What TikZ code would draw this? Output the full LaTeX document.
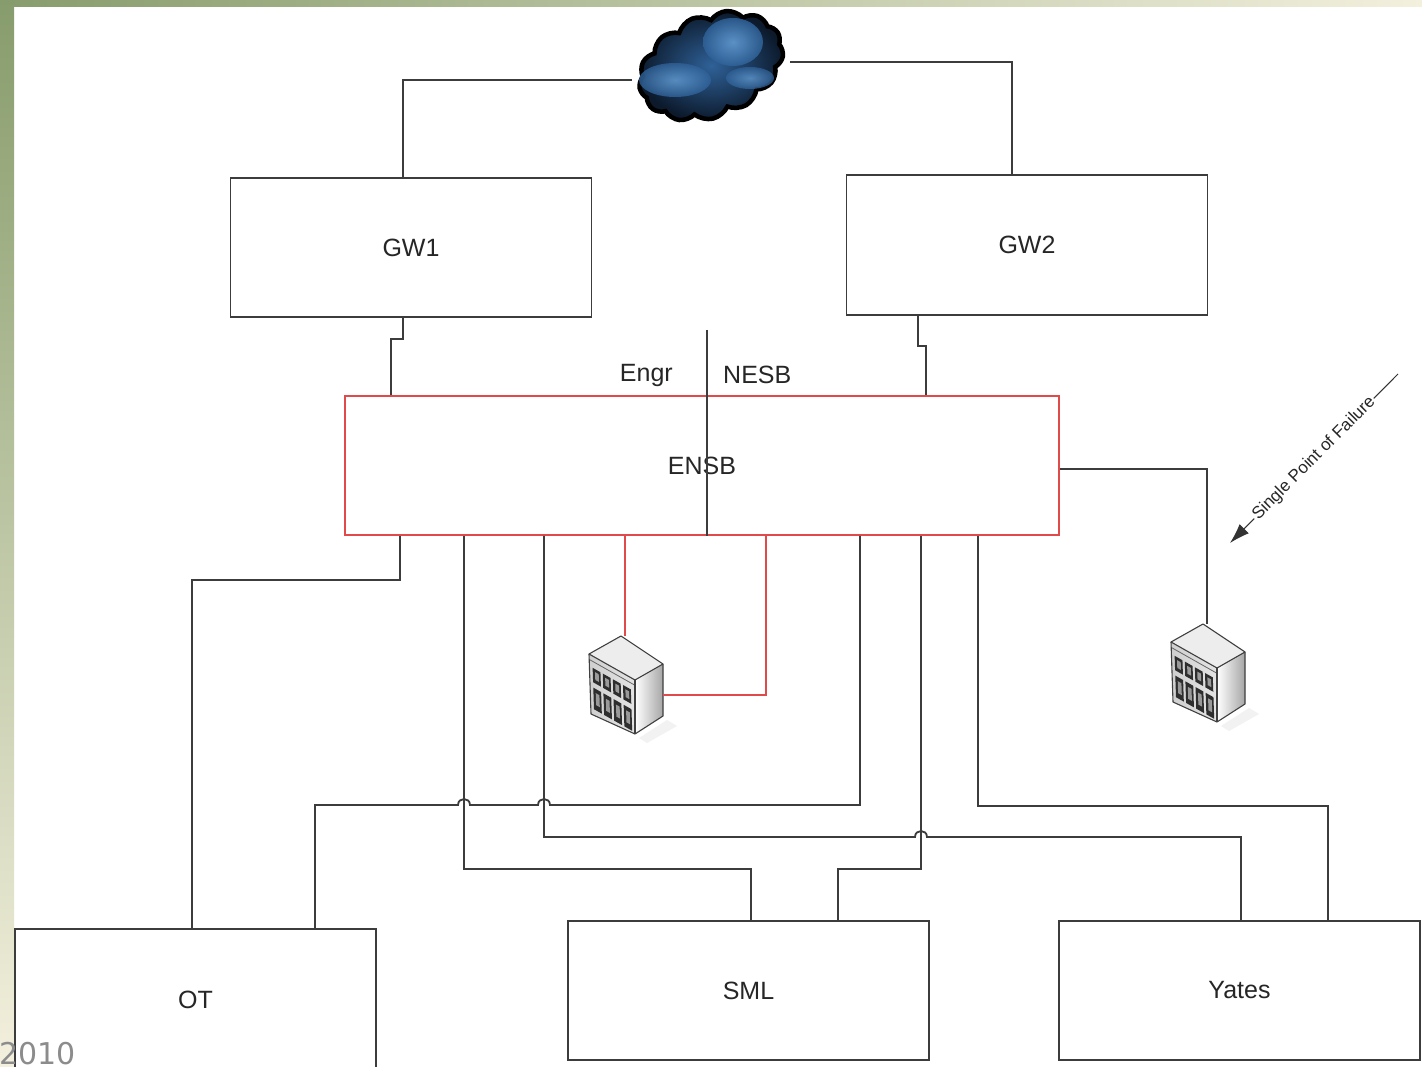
\documentclass[tikz,border=0pt]{standalone}
\usepackage{fontspec}
\setmainfont{Liberation Sans}
\newfontfamily\dejavu{DejaVu Sans}
\usetikzlibrary{shapes.symbols,arrows.meta,calc}
\definecolor{linec}{HTML}{3C3C3C}
\definecolor{ensbred}{HTML}{E04A4A}
\definecolor{framegreen}{HTML}{879C6C}
\definecolor{framecream}{HTML}{F3F0DD}
\definecolor{clouddark}{HTML}{0C1A2C}
\definecolor{cloudmid}{HTML}{2F6198}
\definecolor{cloudlight}{HTML}{66A0D8}
\definecolor{srvtop}{HTML}{EDEDED}
\definecolor{srvfrontA}{HTML}{CFCFCF}
\definecolor{srvfrontB}{HTML}{E4E4E4}
\definecolor{srvwin}{HTML}{2E2E2E}
\definecolor{srvpane}{HTML}{9A9A9A}
\definecolor{yeargray}{HTML}{8C8C8C}
\tikzset{
  srvedge/.style={draw=black!75, line width=1.1pt, line join=round},
  srvicon/.pic={
    \fill[black!5] (14,54) -- (42,36) -- (52,42) -- (22,59) -- cycle;
    \fill[srvtop] (-4,-48) -- (-36,-30) -- (10,-4) -- (38,-20) -- cycle;
    \shade[left color=srvfrontA, right color=srvfrontB] (-36,-30) -- (10,-4) -- (10,50) -- (-34,30) -- cycle;
    \shade[left color=white, right color=black!35] (10,-4) -- (38,-20) -- (38,32) -- (10,50) -- cycle;
    \begin{scope}[shift={(-36,-30)}, x={(46pt,-26pt)}, y={(2pt,-60pt)}]
      \draw[black!60, line width=0.8pt] (0,0.09) -- (1,0.09);
      \foreach \s in {0.07,0.29,0.51,0.73} {
        \fill[srvwin] (\s,0.2) -- ++(0.17,0) -- ++(0,0.24) -- ++(-0.17,0) -- cycle;
        \fill[srvpane] (\s+0.05,0.25) -- ++(0.08,0) -- ++(0,0.13) -- ++(-0.08,0) -- cycle;
        \fill[srvwin] (\s,0.53) -- ++(0.17,0) -- ++(0,0.36) -- ++(-0.17,0) -- cycle;
        \fill[srvpane] (\s+0.05,0.6) -- ++(0.08,0) -- ++(0,0.2) -- ++(-0.08,0) -- cycle;
      }
    \end{scope}
    \draw[srvedge] (-4,-48) -- (-36,-30) -- (-34,30) -- (10,50) -- (38,32) -- (38,-20) -- cycle;
    \draw[srvedge] (-36,-30) -- (10,-4) -- (38,-20);
    \draw[srvedge] (10,-4) -- (10,50);
  }
}
\begin{document}
\begin{tikzpicture}[x=1pt,y=-1pt,
  box/.style={draw=linec, line width=1.5pt, minimum width=361pt, minimum height=139pt, inner sep=0pt, font=\fontsize{25}{30}\selectfont, text=black!85},
  conn/.style={draw=linec, line width=1.8pt},
  redconn/.style={draw=ensbred, line width=1.6pt},
  lbl/.style={font=\fontsize{25}{30}\selectfont, inner sep=0pt, text=black!85},
  srvnode/.style={minimum width=76pt, minimum height=96pt, inner sep=0pt},
  puff/.style={inner color=cloudlight, outer color=cloudmid}]
\clip (0,0) rectangle (1422,1067);
\fill[white] (0,0) rectangle (1422,1067);
\fill[left color=framegreen, right color=framecream] (0,0) rectangle (1422,7);
\fill[top color=framegreen, bottom color=framecream] (0,0) rectangle (14,1067);

% cloud
\node[cloud, cloud puffs=13, cloud puff arc=105, aspect=1.45, minimum width=150pt, minimum height=102pt, rotate=22, draw=black, line width=4.5pt, inner color=cloudmid, outer color=clouddark] (cloud) at (711,66) {};
\shade[puff, opacity=0.85] (733,42) ellipse [x radius=30pt, y radius=24pt];
\shade[puff, opacity=0.8] (675,80) ellipse [x radius=36pt, y radius=17pt];
\shade[puff, opacity=0.75] (750,78) ellipse [x radius=24pt, y radius=11pt];
\coordinate (cl) at (632,80);
\coordinate (cr) at (790,62);

% boxes
\node[box] (gw1) at (411,247.5) {GW1};
\node[box, minimum height=140pt] (gw2) at (1027,245) {GW2};
\node[box, draw=ensbred, minimum width=714pt] (ensb) at (702,465.5) {ENSB};
\node[box, minimum height=142pt] (ot) at (195.5,1000) {OT};
\node[box] (sml) at (748.5,990.5) {SML};
\node[box] (yates) at (1239.5,990.5) {Yates};

% servers
\node[srvnode] (srv1) at (625,684) {};
\pic at (srv1.center) {srvicon};
\node[srvnode] (srv2) at (1207,672) {};
\pic at (srv2.center) {srvicon};

% labels
\node[lbl, anchor=east] (engr) at (673,375) {Engr};
\node[lbl, anchor=west] (nesb) at (723,375) {NESB};
\coordinate (septop) at (707,330);
\draw[conn, line width=1.5pt] (septop) -- (septop |- ensb.south);

% top connectors
\draw[conn] (cl) -| ([xshift=-8pt]gw1.north);
\draw[conn] (cr) -| ([xshift=-15pt]gw2.north);
\draw[conn] ([xshift=-8pt]gw1.south) -- ++(0,21) -| ([xshift=-311pt]ensb.north);
\draw[conn] ([xshift=-109pt]gw2.south) -- ++(0,30) -| ([xshift=224pt]ensb.north);

% right connector
\draw[conn] ([yshift=-3.5pt]ensb.east) -| (srv2.north);

% bottom connectors
\draw[conn] ([xshift=-302pt]ensb.south) -- ++(0,44) -| ([xshift=-3.5pt]ot.north);
\draw[conn] ([xshift=-238pt]ensb.south) -- ++(0,333) -| ([xshift=2.5pt]sml.north);
\draw[conn] ([xshift=-158pt]ensb.south) -- (544,837) -- (915,837)
   .. controls (915,829) and (927,829) .. (927,837) -| ([xshift=1.5pt]yates.north);
\draw[redconn] ([xshift=-77pt]ensb.south) -- (srv1.north);
\draw[redconn] ([xshift=64pt]ensb.south) |- ([yshift=-11pt]srv1.east);
\draw[conn] ([xshift=158pt]ensb.south) -- (860,805) -- (550,805)
   .. controls (550,797) and (538,797) .. (538,805) -- (470,805)
   .. controls (470,797) and (458,797) .. (458,805) -| ([xshift=119.5pt]ot.north);
\draw[conn] ([xshift=219pt]ensb.south) -- ++(0,333) -| ([xshift=89.5pt]sml.north);
\draw[conn] ([xshift=276pt]ensb.south) -- ++(0,270) -| ([xshift=88.5pt]yates.north);

% single point of failure
\coordinate (spfS) at (1398,374);
\coordinate (spfE) at (1230,543);
\draw[draw=black!80, line width=1pt, -{Latex[length=20pt,width=13pt]}] (spfS) -- node[sloped, fill=white, inner sep=1.5pt, font=\fontsize{17}{20}\selectfont, text=black!85] (spft) {Single Point of Failure} (spfE);

% year
\node[anchor=base west, inner sep=0pt, font=\dejavu\fontsize{30}{36}\selectfont, text=yeargray] (year) at (-1,1064) {2010};
\end{tikzpicture}
\end{document}
